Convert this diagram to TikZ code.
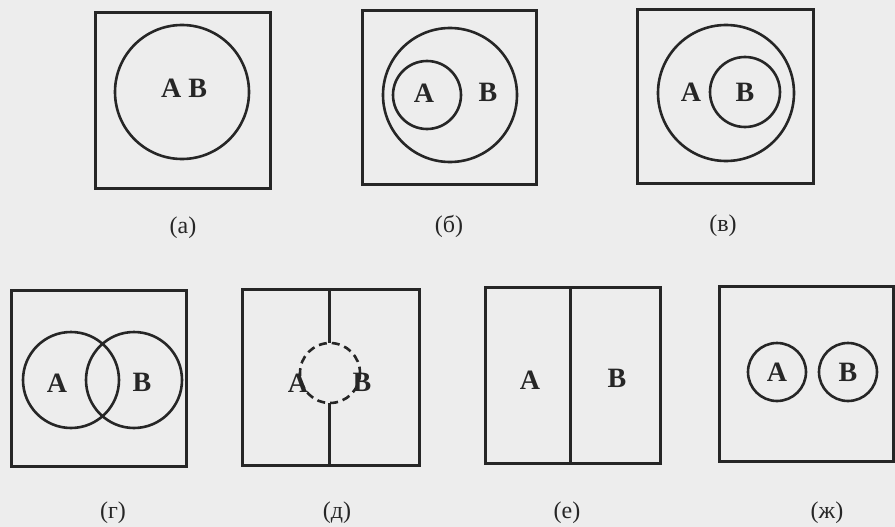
\documentclass[tikz,border=0pt]{standalone}
\usepackage{fontspec}
\setmainfont{Liberation Serif}
\usepackage{tikz}

\tikzset{
    frame/.style={black!85,line width=3pt},
    ring/.style={black!85,line width=2.6pt},
    setname/.style={font=\fontsize{28}{28}\selectfont\bfseries,text=black!85,inner sep=0pt},
    caption/.style={font=\fontsize{24}{24}\selectfont,text=black!85,inner sep=0pt}
}

\begin{document}
\begin{tikzpicture}[x=1pt,y=-1pt]
        % page
        \fill[gray!14] (0,0) rectangle (895,527);
        \useasboundingbox (0,0) rectangle (895,527);

        % (a) A = B
        \draw[frame] (95,13) rectangle (270,188);
        \draw[ring] (182,92) circle (67);
        \node[setname] (ab) at (184,88) {A B};
        \node[caption] (capa) at (183,228) {(а)};

        % (b) A inside B
        \draw[frame] (362,11) rectangle (536,184);
        \draw[ring] (450,95) circle (67);
        \draw[ring] (427,95) circle (34);
        \node[setname] (ba) at (424,93) {A};
        \node[setname] (bb) at (488,92) {B};
        \node[caption] (capb) at (449,226) {(б)};

        % (v) B inside A
        \draw[frame] (637,10) rectangle (813,183);
        \draw[ring] (726,93) circle (68);
        \draw[ring] (745,92) circle (35);
        \node[setname] (va) at (691,92) {A};
        \node[setname] (vb) at (745,92) {B};
        \node[caption] (capv) at (723,226) {(в)};

        % (g) overlap
        \draw[frame] (11,290) rectangle (186,466);
        \draw[ring] (71,380) circle (48);
        \draw[ring] (134,380) circle (48);
        \node[setname] (ga) at (57,383) {A};
        \node[setname] (gb) at (142,382) {B};
        \node[caption] (capg) at (113,513) {(г)};

        % (d) wall with a gap
        \draw[frame] (242,289) rectangle (419,465);
        \draw[frame] (329,289) -- (329,343);
        \draw[frame] (329,403) -- (329,465);
        \draw[ring,dash pattern=on 8pt off 5pt] (330,373) circle (30);
        \node[setname] (da) at (298,383) {A};
        \node[setname] (db) at (362,382) {B};
        \node[caption] (capd) at (337,513) {(д)};

        % (e) split in two
        \draw[frame] (485,287) rectangle (660,463);
        \draw[frame] (570,287) -- (570,463);
        \node[setname] (ea) at (530,380) {A};
        \node[setname] (eb) at (617,378) {B};
        \node[caption] (cape) at (567,513) {(е)};

        % (zh) apart
        \draw[frame] (719,286) rectangle (893,461);
        \draw[ring] (777,372) circle (29);
        \draw[ring] (848,372) circle (29);
        \node[setname] (zha) at (777,372) {A};
        \node[setname] (zhb) at (848,372) {B};
        \node[caption] (capzh) at (827,513) {(ж)};
    \end{tikzpicture}
\end{document}
